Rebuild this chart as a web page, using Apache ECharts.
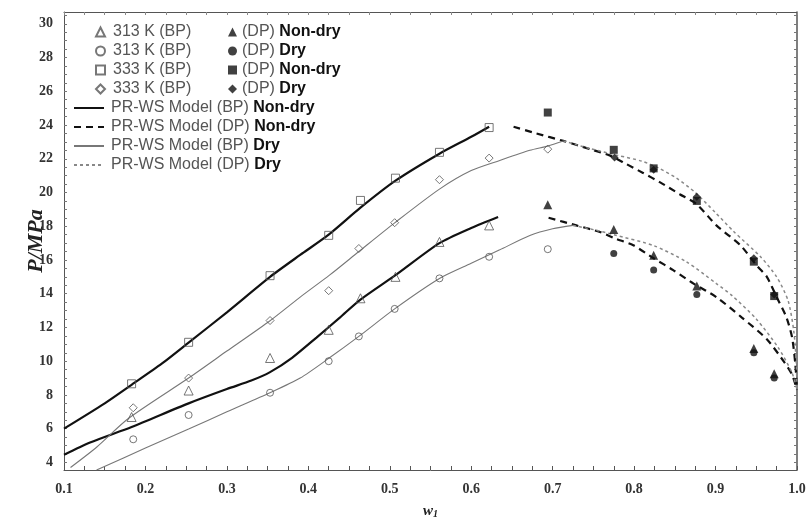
<!DOCTYPE html>
<html>
<head>
<meta charset="utf-8">
<script src="https://cdn.jsdelivr.net/npm/echarts@6/dist/echarts.min.js"></script>
<style>html,body{margin:0;padding:0;background:#fff}#c{width:809px;height:524px}</style>
</head>
<body>
<div id="c"></div>
<script>
// ---- tick labels ----
const xTickLabels = [0.1, 0.2, 0.3, 0.4, 0.5, 0.6, 0.7, 0.8, 0.9, 1.0];
const yTickLabels = [4, 6, 8, 10, 12, 14, 16, 18, 20, 22, 24, 26, 28, 30];

// ---- experimental bubble points (BP, open symbols) ----
const bp313NonDry = [[0.183,6.69],[0.253,8.26],[0.353,10.19],[0.425,11.86],[0.464,13.73],[0.507,15.0],[0.561,17.07],[0.622,18.05]];
const bp313Dry    = [[0.185,5.37],[0.253,6.81],[0.353,8.13],[0.425,10.0],[0.462,11.47],[0.506,13.1],[0.561,14.91],[0.622,16.19],[0.694,16.64]];
const bp333NonDry = [[0.183,8.66],[0.253,11.12],[0.353,15.07],[0.425,17.46],[0.464,19.53],[0.507,20.85],[0.561,22.38],[0.622,23.85]];
const bp333Dry    = [[0.185,7.24],[0.253,9.0],[0.353,12.41],[0.425,14.18],[0.462,16.68],[0.506,18.21],[0.561,20.76],[0.622,22.04],[0.694,22.57]];

// ---- experimental dew points (DP, filled symbols) ----
const dp313NonDry = [[0.694,19.27],[0.775,17.8],[0.824,16.28],[0.877,14.46],[0.947,10.75],[0.972,9.25]];
const dp313Dry    = [[0.775,16.38],[0.824,15.4],[0.877,13.96],[0.947,10.5],[0.972,9.0]];
const dp333NonDry = [[0.694,24.74],[0.775,22.53],[0.824,21.43],[0.877,19.5],[0.947,15.9],[0.972,13.86]];
const dp333Dry    = [[0.776,22.08],[0.824,21.35],[0.877,19.75],[0.947,16.1],[0.972,13.95]];

// ---- PR-WS model curves ----
const mBp333NonDry = [[0.1,6.0],[0.15,7.5],[0.183,8.6],[0.22,9.85],[0.253,11.1],[0.3,12.9],[0.353,15.0],[0.39,16.3],[0.425,17.5],[0.464,19.1],[0.507,20.7],[0.561,22.3],[0.6,23.3],[0.622,23.9]];
const mBp313NonDry = [[0.1,4.45],[0.132,5.18],[0.183,6.1],[0.253,7.5],[0.3,8.35],[0.33,8.85],[0.353,9.35],[0.38,10.2],[0.41,11.4],[0.439,12.6],[0.464,13.65],[0.507,15.1],[0.561,17.0],[0.6,17.9],[0.633,18.55]];
const mBp333Dry    = [[0.108,3.7],[0.14,4.9],[0.179,6.6],[0.253,9.0],[0.3,10.6],[0.353,12.4],[0.39,13.8],[0.426,15.1],[0.462,16.5],[0.506,18.2],[0.561,20.2],[0.6,21.3],[0.635,21.9],[0.672,22.5],[0.694,22.75],[0.713,23.05]];
const mBp313Dry    = [[0.14,3.55],[0.2,4.85],[0.253,5.98],[0.3,7.0],[0.353,8.13],[0.39,9.0],[0.426,10.2],[0.462,11.47],[0.506,13.1],[0.561,14.9],[0.6,15.8],[0.635,16.6],[0.672,17.45],[0.7,17.85],[0.725,18.05]];
const mDp333NonDry = [[0.652,23.9],[0.68,23.5],[0.713,23.06],[0.746,22.57],[0.77,22.2],[0.79,21.7],[0.811,21.16],[0.832,20.6],[0.856,19.9],[0.877,19.3],[0.901,18.05],[0.93,16.9],[0.95,15.7],[0.963,15.0],[0.975,13.8],[0.987,12.6],[0.994,11.4],[0.998,9.8],[1.0,8.3]];
const mDp333Dry    = [[0.713,23.06],[0.746,22.6],[0.78,22.2],[0.81,21.85],[0.83,21.45],[0.852,20.85],[0.875,20.0],[0.9,18.8],[0.922,17.7],[0.955,16.2],[0.975,15.0],[0.989,13.6],[0.996,11.8],[0.999,10.0],[1.0,8.3]];
const mDp313NonDry = [[0.695,18.5],[0.729,18.05],[0.758,17.66],[0.777,17.27],[0.799,16.87],[0.824,16.1],[0.848,15.4],[0.873,14.6],[0.901,13.8],[0.932,12.6],[0.963,11.3],[0.985,9.9],[0.994,9.2],[1.0,8.3]];
const mDp313Dry    = [[0.725,18.05],[0.75,17.8],[0.775,17.5],[0.824,16.85],[0.864,15.9],[0.901,14.6],[0.92,13.9],[0.95,12.5],[0.977,10.8],[0.994,9.3],[1.0,8.3]];

const legendNames = {
  '313 K (BP) Non-dry': '{g|313 K (BP)}',
  '313 K (BP) Dry': '{g|313 K (BP)}',
  '333 K (BP) Non-dry': '{g|333 K (BP)}',
  '333 K (BP) Dry': '{g|333 K (BP)}',
  '313 K (DP) Non-dry': '{g|(DP) }{b|Non-dry}',
  '313 K (DP) Dry': '{g|(DP) }{b|Dry}',
  '333 K (DP) Non-dry': '{g|(DP) }{b|Non-dry}',
  '333 K (DP) Dry': '{g|(DP) }{b|Dry}',
  'PR-WS Model (BP) Non-dry': '{g|PR-WS Model (BP) }{b|Non-dry}',
  'PR-WS Model (DP) Non-dry': '{g|PR-WS Model (DP) }{b|Non-dry}',
  'PR-WS Model (BP) Dry': '{g|PR-WS Model (BP) }{b|Dry}',
  'PR-WS Model (DP) Dry': '{g|PR-WS Model (DP) }{b|Dry}'
};

const minorX = []; for (let v = 100; v <= 1000; v += 25) minorX.push(v / 1000);
const minorY = []; for (let v = 40; v <= 305; v += 5) minorY.push(v / 10);

const FR = '#555';
const FONT = 'Liberation Sans, Arial, sans-serif';
const SERIF = 'Liberation Serif, Times New Roman, serif';
const rich = {
  g: { color: '#555', fontSize: 16, fontFamily: FONT, lineHeight: 15 },
  b: { color: '#111', fontSize: 16, fontWeight: 'bold', fontFamily: FONT, lineHeight: 15 }
};
function mkLegend(data, left, top, iw, ih, padLeft, extra) {
  return Object.assign({
    orient: 'vertical', left: left, top: top, data: data,
    itemWidth: iw, itemHeight: ih, itemGap: 3, padding: 0,
    selectedMode: false,
    formatter: n => legendNames[n],
    textStyle: { rich: rich, padding: [0, 0, 0, padLeft] }
  }, extra || {});
}

const openStyle = { color: 'rgba(255,255,255,0)', borderColor: '#555', borderWidth: 1 };
const filledStyle = { color: '#111' };
function sc(name, data, symbol, style, size) {
  return { name: name, type: 'scatter', data: data, symbol: symbol, symbolSize: size, itemStyle: style, z: 5 };
}
function ln(name, data, style) {
  return { name: name, type: 'line', data: data, symbol: 'none', smooth: 0.25, lineStyle: style, itemStyle: { color: style.color }, z: 3 };
}
const sBPND = { color: '#111', width: 2.2, type: 'solid' };
const sDPND = { color: '#111', width: 2.2, type: [7, 5] };
const sBPD = { color: '#777', width: 1.1, type: 'solid' };
const sDPD = { color: '#888', width: 1.5, type: [3, 3] };

const chart = echarts.init(document.getElementById('c'));
chart.setOption({
  animation: false,
  backgroundColor: '#fff',
  grid: { left: 64, right: 12, top: 12, bottom: 52 },
  legend: [
    mkLegend(['313 K (BP) Non-dry', '313 K (BP) Dry', '333 K (BP) Non-dry', '333 K (BP) Dry'], 95, 24, 9, 9, 3),
    mkLegend(['313 K (DP) Non-dry', '313 K (DP) Dry', '333 K (DP) Non-dry', '333 K (DP) Dry'], 228, 24, 9, 9, 0),
    mkLegend(['PR-WS Model (BP) Non-dry', 'PR-WS Model (DP) Non-dry', 'PR-WS Model (BP) Dry', 'PR-WS Model (DP) Dry'], 73, 100, 30, 9, 2,
      { itemStyle: { opacity: 0 } })
  ],
  xAxis: [
    {
      type: 'value', min: 0.1, max: 1.0, position: 'bottom',
      name: '{i|w}{s|1}', nameLocation: 'middle', nameGap: 33, nameMoveOverlap: false,
      nameTextStyle: { rich: {
        i: { fontFamily: SERIF, fontStyle: 'italic', fontWeight: 'bold', fontSize: 15, color: '#222' },
        s: { fontFamily: SERIF, fontStyle: 'italic', fontWeight: 'bold', fontSize: 10, color: '#222', padding: [6, 0, 0, 0] } } },
      axisLine: { show: true, lineStyle: { color: FR, width: 1 } },
      axisTick: { show: true, inside: true, length: 4, customValues: minorX, lineStyle: { color: FR } },
      axisLabel: { customValues: xTickLabels, formatter: v => v.toFixed(1), margin: 12,
        fontFamily: SERIF, fontWeight: 'bold', fontSize: 14, color: '#333' },
      splitLine: { show: false }
    },
    {
      type: 'value', min: 0.1, max: 1.0, position: 'top',
      axisLine: { show: true, lineStyle: { color: FR, width: 1 } },
      axisTick: { show: true, inside: true, length: 3, customValues: minorX, lineStyle: { color: '#888' } },
      axisLabel: { show: false }, splitLine: { show: false }
    }
  ],
  yAxis: [
    {
      type: 'value', min: 3.55, max: 30.7, position: 'left',
      name: 'P/MPa', nameLocation: 'middle', nameGap: 17, nameRotate: 90, nameMoveOverlap: false,
      nameTextStyle: { fontFamily: SERIF, fontStyle: 'italic', fontWeight: 'bold', fontSize: 22, color: '#222' },
      axisLine: { show: true, lineStyle: { color: FR, width: 1 } },
      axisTick: { show: true, inside: true, length: 3, customValues: minorY, lineStyle: { color: '#777' } },
      axisLabel: { customValues: yTickLabels, margin: 11,
        fontFamily: SERIF, fontWeight: 'bold', fontSize: 14, color: '#333' },
      splitLine: { show: false }
    },
    {
      type: 'value', min: 3.55, max: 30.7, position: 'right',
      axisLine: { show: true, lineStyle: { color: FR, width: 1.5 } },
      axisTick: { show: true, inside: true, length: 3, customValues: minorY, lineStyle: { color: '#777' } },
      axisLabel: { show: false }, splitLine: { show: false }
    }
  ],
  series: [
    sc('313 K (BP) Non-dry', bp313NonDry, 'triangle', openStyle, 9),
    sc('313 K (BP) Dry', bp313Dry, 'circle', openStyle, 7),
    sc('333 K (BP) Non-dry', bp333NonDry, 'rect', openStyle, 8),
    sc('333 K (BP) Dry', bp333Dry, 'diamond', openStyle, 8),
    sc('313 K (DP) Non-dry', dp313NonDry, 'triangle', filledStyle, 9),
    sc('313 K (DP) Dry', dp313Dry, 'circle', filledStyle, 7),
    sc('333 K (DP) Non-dry', dp333NonDry, 'rect', filledStyle, 8),
    sc('333 K (DP) Dry', dp333Dry, 'diamond', filledStyle, 8),
    ln('PR-WS Model (BP) Non-dry', mBp333NonDry, sBPND),
    ln('PR-WS Model (BP) Non-dry', mBp313NonDry, sBPND),
    ln('PR-WS Model (DP) Non-dry', mDp333NonDry, sDPND),
    ln('PR-WS Model (DP) Non-dry', mDp313NonDry, sDPND),
    ln('PR-WS Model (BP) Dry', mBp333Dry, sBPD),
    ln('PR-WS Model (BP) Dry', mBp313Dry, sBPD),
    ln('PR-WS Model (DP) Dry', mDp333Dry, sDPD),
    ln('PR-WS Model (DP) Dry', mDp313Dry, sDPD)
  ]
});
</script>
</body>
</html>
